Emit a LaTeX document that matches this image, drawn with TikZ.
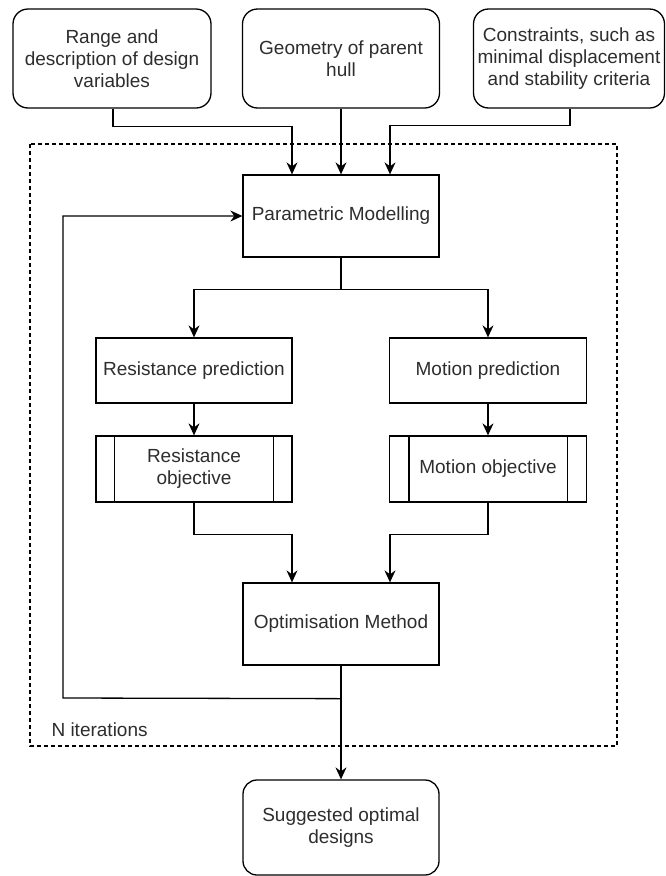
\documentclass[tikz,border=0pt]{standalone}
\usepackage{fontspec}
\setmainfont{Liberation Sans}
\usetikzlibrary{arrows.meta,calc}
\definecolor{txt}{RGB}{45,45,45}
\tikzset{
  every node/.style={font=\fontsize{19}{22}\selectfont, text=txt},
  box/.style={draw, line width=1.3pt, align=center, inner sep=0pt},
  rbox/.style={box, rounded corners=15pt},
  arr/.style={line width=1.3pt, -{Stealth[length=12pt,width=11pt,inset=4pt]}},
  ln/.style={line width=1.3pt},
  frame/.style={line width=1.3pt, dash pattern=on 4pt off 3pt}
}
\begin{document}
\begin{tikzpicture}[x=1pt,y=-1pt]
\useasboundingbox (0,0) rectangle (665,876);
% dashed frame
\draw[frame] (30,144) rectangle (617,746);
\node[anchor=west] (nit) at (48,730) {N iterations};
% top inputs
\node[rbox, minimum width=198pt, minimum height=99pt] (b1) at (112,58.5) {Range and\\description of design\\variables};
\node[rbox, minimum width=197pt, minimum height=99pt] (b2) at (341,58.5) {Geometry of parent\\hull};
\node[rbox, minimum width=191pt, minimum height=99pt] (b3) at (569,58.5) {Constraints, such as\\minimal displacement\\and stability criteria};
% main blocks
\node[box, minimum width=196pt, minimum height=82pt] (pm) at (341,216) {Parametric Modelling};
\node[box, minimum width=196pt, minimum height=65pt] (rp) at (194,370.5) {Resistance prediction};
\node[box, minimum width=197pt, minimum height=65pt] (mp) at (488,370.5) {Motion prediction};
\node[box, minimum width=196pt, minimum height=66pt] (ro) at (194,469) {Resistance\\objective};
\node[box, minimum width=197pt, minimum height=66pt] (mo) at (488,469) {Motion objective};
\draw[ln] ([xshift=19pt]ro.north west) -- ([xshift=19pt]ro.south west);
\draw[ln] ([xshift=-19pt]ro.north east) -- ([xshift=-19pt]ro.south east);
\draw[ln] ([xshift=20pt]mo.north west) -- ([xshift=20pt]mo.south west);
\draw[ln] ([xshift=-20pt]mo.north east) -- ([xshift=-20pt]mo.south east);
\node[box, minimum width=196pt, minimum height=82pt] (om) at (341,624) {Optimisation Method};
\node[rbox, rounded corners=14pt, minimum width=196pt, minimum height=95pt] (sd) at (341,827.5) {Suggested optimal\\designs};
% connectors
\draw[arr] ([xshift=1pt]b1.south) -- ++(0,18) -| ([xshift=-49pt]pm.north);
\draw[arr] (b2.south) -- (pm.north);
\draw[arr] ([xshift=1pt]b3.south) -- ++(0,17) -| ([xshift=49pt]pm.north);
\draw[arr] (pm.south) -- ++(0,32) -| (rp.north);
\draw[arr] (pm.south) -- ++(0,32) -| (mp.north);
\draw[arr] (rp.south) -- (ro.north);
\draw[arr] (mp.south) -- (mo.north);
\draw[arr] (ro.south) -- ++(0,32) -| ([xshift=-49pt]om.north);
\draw[arr] (mo.south) -- ++(0,32) -| ([xshift=49pt]om.north);
\draw[arr] (om.south) -- (sd.north);
\coordinate (fbl) at (63,698);
\draw[arr] ([yshift=-33pt]om.south) -- (fbl) |- (pm.west);
\end{tikzpicture}
\end{document}
